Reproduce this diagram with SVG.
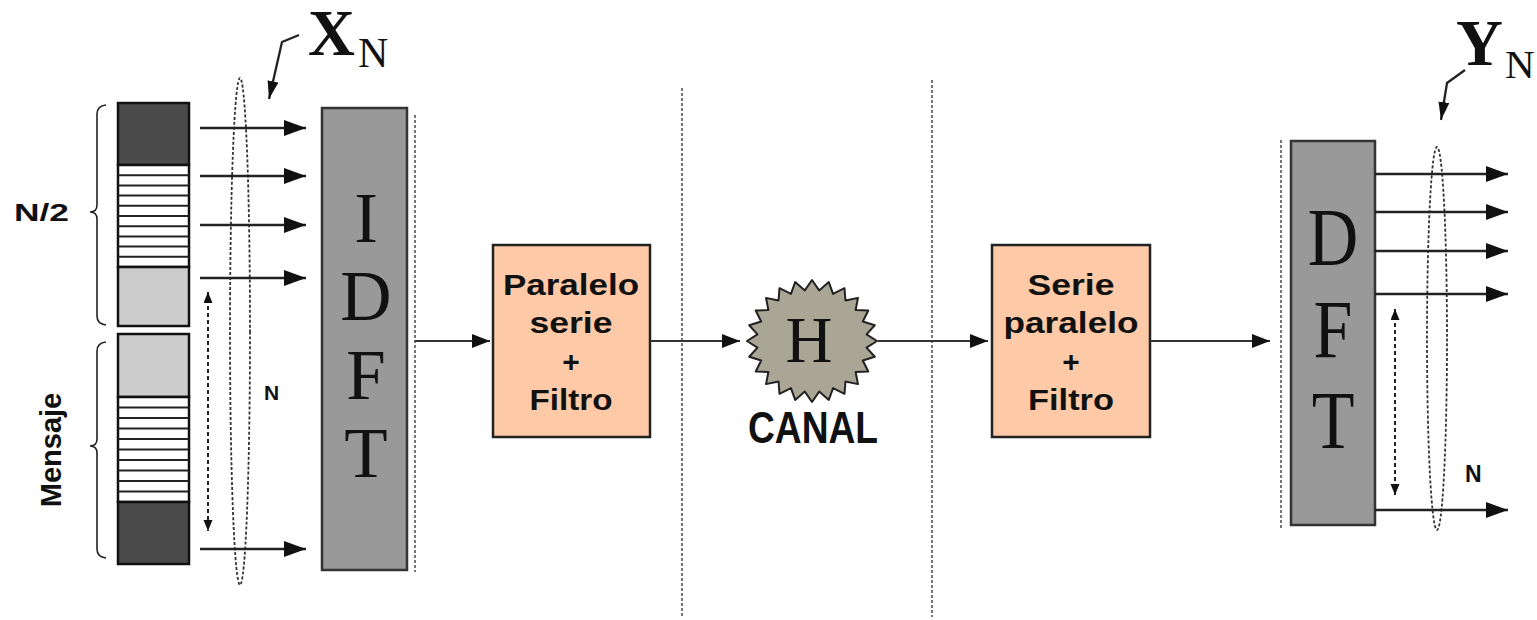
<svg xmlns="http://www.w3.org/2000/svg" width="1537" height="620" viewBox="0 0 1537 620">
  <style>
    .sans { font-family: "Liberation Sans", Arial, sans-serif; font-weight: bold; fill: #111; }
    .serif { font-family: "Liberation Serif", "Times New Roman", serif; fill: #111; }
    .big { font-size: 71px; }
    .blk { font-size: 30px; }
    .wire { stroke: #222; stroke-width: 2.3; fill: none; }
    .wire-main { stroke: #333; stroke-width: 2.2; fill: none; }
    .guide { stroke: #555; stroke-width: 1.6; stroke-dasharray: 3 2; fill: none; }
    .loop { stroke: #333; stroke-width: 1.8; stroke-dasharray: 3 2; fill: none; }
    .span { stroke: #222; stroke-width: 2; stroke-dasharray: 4 3; fill: none; }
    .brace { stroke: #222; stroke-width: 1.6; fill: none; }
    .cell { stroke: #111; stroke-width: 2.5; }
    .stripe { stroke: #222; stroke-width: 2; }
    .dsp { fill: #999999; stroke: #333; stroke-width: 2.5; }
    .conv { fill: #fdc9a6; stroke: #222; stroke-width: 2.5; }
  </style>
  <defs>
    <marker id="arr" markerUnits="userSpaceOnUse" markerWidth="24" markerHeight="18" refX="22" refY="8" orient="auto">
      <path d="M0,0 L22,8 L0,16 z" fill="#111"/>
    </marker>
    <marker id="arr-main" markerUnits="userSpaceOnUse" markerWidth="20" markerHeight="16" refX="18" refY="7" orient="auto">
      <path d="M0,0 L18,7 L0,14 z" fill="#111"/>
    </marker>
    <marker id="arr-small" markerUnits="userSpaceOnUse" markerWidth="12" markerHeight="10" refX="11" refY="4.5" orient="auto-start-reverse">
      <path d="M0,0 L11,4.5 L0,9 z" fill="#111"/>
    </marker>
    <marker id="arr-ptr" markerUnits="userSpaceOnUse" markerWidth="20" markerHeight="12" refX="18" refY="5.5" orient="auto">
      <path d="M0,0 L18,5.5 L0,11 z" fill="#111"/>
    </marker>
  </defs>

  <!-- symbol stack: upper half -->
  <g id="stack-upper">
    <rect class="cell" x="118" y="103" width="71" height="62" fill="#4b4b4b"/>
    <rect class="cell" x="118" y="165" width="71" height="102" fill="#ffffff"/>
    <g class="stripe">
      <line x1="118" y1="175.2" x2="189" y2="175.2"/>
      <line x1="118" y1="185.4" x2="189" y2="185.4"/>
      <line x1="118" y1="195.6" x2="189" y2="195.6"/>
      <line x1="118" y1="205.8" x2="189" y2="205.8"/>
      <line x1="118" y1="216" x2="189" y2="216"/>
      <line x1="118" y1="226.2" x2="189" y2="226.2"/>
      <line x1="118" y1="236.4" x2="189" y2="236.4"/>
      <line x1="118" y1="246.6" x2="189" y2="246.6"/>
      <line x1="118" y1="256.8" x2="189" y2="256.8"/>
    </g>
    <rect class="cell" x="118" y="267" width="71" height="59" fill="#cccccc"/>
  </g>

  <!-- symbol stack: message half -->
  <g id="stack-lower">
    <rect class="cell" x="118" y="334" width="71" height="63" fill="#cccccc"/>
    <rect class="cell" x="118" y="397" width="71" height="105" fill="#ffffff"/>
    <g class="stripe">
      <line x1="118" y1="407.5" x2="189" y2="407.5"/>
      <line x1="118" y1="418" x2="189" y2="418"/>
      <line x1="118" y1="428.5" x2="189" y2="428.5"/>
      <line x1="118" y1="439" x2="189" y2="439"/>
      <line x1="118" y1="449.5" x2="189" y2="449.5"/>
      <line x1="118" y1="460" x2="189" y2="460"/>
      <line x1="118" y1="470.5" x2="189" y2="470.5"/>
      <line x1="118" y1="481" x2="189" y2="481"/>
      <line x1="118" y1="491.5" x2="189" y2="491.5"/>
    </g>
    <rect class="cell" x="118" y="502" width="71" height="62" fill="#4b4b4b"/>
  </g>

  <!-- braces and their labels -->
  <g id="brace-half">
    <path class="brace" d="M106,105 Q97,106 97,114 L97,205 Q97,212 90,212 Q97,212 97,219 L97,316 Q97,324 106,325"/>
    <text class="sans" x="14" y="221" font-size="24" textLength="55" lengthAdjust="spacingAndGlyphs">N/2</text>
  </g>
  <g id="brace-message">
    <path class="brace" d="M106,342 Q97,343 97,351 L97,439 Q97,446 90,446 Q97,446 97,453 L97,549 Q97,557 106,558"/>
    <text class="sans" transform="translate(61,450) rotate(-90)" x="0" y="0" font-size="29" text-anchor="middle">Mensaje</text>
  </g>

  <!-- X_N input vector -->
  <g id="input-vector">
    <ellipse class="loop" cx="240" cy="331.5" rx="10" ry="253.5"/>
    <path class="span" d="M208,292 L208,531" marker-start="url(#arr-small)" marker-end="url(#arr-small)"/>
    <text class="sans" x="264" y="400" font-size="21">N</text>
    <text class="serif" x="308" y="55" font-size="65" font-weight="bold">X</text>
    <text class="serif" x="358" y="67" font-size="42">N</text>
    <path class="wire" stroke-width="1.6" d="M299,35 L282,42 L269,99" marker-end="url(#arr-ptr)"/>
  </g>

  <!-- IDFT block -->
  <g id="idft">
    <rect class="dsp" x="322" y="108" width="85" height="462"/>
    <text class="serif big" x="366" y="242" text-anchor="middle">I</text>
    <text class="serif big" x="366" y="320" text-anchor="middle">D</text>
    <text class="serif big" x="366" y="399" text-anchor="middle">F</text>
    <text class="serif big" x="366" y="477" text-anchor="middle">T</text>
    <line class="guide" x1="415" y1="115" x2="415" y2="572"/>
  </g>

  <!-- parallel to serial converter -->
  <g id="ps-filter">
    <rect class="conv" x="493" y="245" width="157" height="192"/>
    <text class="sans blk" x="571" y="295" text-anchor="middle" textLength="136" lengthAdjust="spacingAndGlyphs">Paralelo</text>
    <text class="sans blk" x="571" y="333" text-anchor="middle" textLength="83" lengthAdjust="spacingAndGlyphs">serie</text>
    <text class="sans blk" x="571" y="372" text-anchor="middle">+</text>
    <text class="sans blk" x="571" y="410" text-anchor="middle" textLength="83" lengthAdjust="spacingAndGlyphs">Filtro</text>
  </g>

  <!-- channel -->
  <g id="canal">
    <polygon transform="translate(812,341)" fill="#aaa696" stroke="#222" stroke-width="2" stroke-linejoin="round" points="65,0 54.53,6.66 62.79,15.79 50.81,19.52 56.29,30.5 43.63,31.05 45.96,43.13 33.48,40.46 32.5,52.83 21.05,47.12 16.82,58.92 7.18,50.56 0,61 -7.18,50.56 -16.82,58.92 -21.05,47.12 -32.5,52.83 -33.48,40.46 -45.96,43.13 -43.63,31.05 -56.29,30.5 -50.81,19.52 -62.79,15.79 -54.53,6.66 -65,0 -54.53,-6.66 -62.79,-15.79 -50.81,-19.52 -56.29,-30.5 -43.63,-31.05 -45.96,-43.13 -33.48,-40.46 -32.5,-52.83 -21.05,-47.12 -16.82,-58.92 -7.18,-50.56 0,-61 7.18,-50.56 16.82,-58.92 21.05,-47.12 32.5,-52.83 33.48,-40.46 45.96,-43.13 43.63,-31.05 56.29,-30.5 50.81,-19.52 62.79,-15.79 54.53,-6.66"/>
    <text class="serif" x="809" y="362" font-size="65" text-anchor="middle">H</text>
    <text class="sans" x="748" y="443" font-size="44" textLength="130" lengthAdjust="spacingAndGlyphs">CANAL</text>
  </g>

  <!-- serial to parallel converter -->
  <g id="sp-filter">
    <rect class="conv" x="992" y="245" width="158" height="192"/>
    <text class="sans blk" x="1071" y="295" text-anchor="middle" textLength="87" lengthAdjust="spacingAndGlyphs">Serie</text>
    <text class="sans blk" x="1071" y="333" text-anchor="middle" textLength="135" lengthAdjust="spacingAndGlyphs">paralelo</text>
    <text class="sans blk" x="1071" y="372" text-anchor="middle">+</text>
    <text class="sans blk" x="1071" y="410" text-anchor="middle" textLength="86" lengthAdjust="spacingAndGlyphs">Filtro</text>
  </g>

  <!-- DFT block -->
  <g id="dft">
    <line class="guide" x1="1281" y1="140" x2="1281" y2="528"/>
    <rect class="dsp" x="1291" y="141" width="84" height="384"/>
    <text class="serif" font-size="70" text-anchor="middle" transform="translate(1333,265) scale(1,1.18)">D</text>
    <text class="serif" font-size="70" text-anchor="middle" transform="translate(1333,357) scale(1,1.18)">F</text>
    <text class="serif" font-size="70" text-anchor="middle" transform="translate(1333,448) scale(1,1.18)">T</text>
  </g>

  <!-- Y_N output vector -->
  <g id="output-vector">
    <ellipse class="loop" cx="1437" cy="338.5" rx="10" ry="191.5"/>
    <path class="span" d="M1395,309 L1395,495" marker-start="url(#arr-small)" marker-end="url(#arr-small)"/>
    <text class="sans" x="1465" y="482" font-size="23">N</text>
    <text class="serif" x="1456" y="65" font-size="65" font-weight="bold">Y</text>
    <text class="serif" x="1505" y="78" font-size="41">N</text>
    <path class="wire" stroke-width="1.6" d="M1465,70 L1447,83 L1441,120" marker-end="url(#arr-ptr)"/>
  </g>

  <!-- section separators -->
  <g id="separators">
    <line class="guide" x1="682" y1="88" x2="682" y2="617"/>
    <line class="guide" x1="932" y1="80" x2="932" y2="617"/>
  </g>

  <!-- connectors -->
  <g id="connectors">
    <line class="wire" x1="200" y1="128" x2="306" y2="128" marker-end="url(#arr)"/>
    <line class="wire" x1="200" y1="176" x2="306" y2="176" marker-end="url(#arr)"/>
    <line class="wire" x1="200" y1="225" x2="306" y2="225" marker-end="url(#arr)"/>
    <line class="wire" x1="200" y1="278" x2="306" y2="278" marker-end="url(#arr)"/>
    <line class="wire" x1="200" y1="549" x2="306" y2="549" marker-end="url(#arr)"/>

    <line class="wire-main" x1="415" y1="341" x2="490" y2="341" marker-end="url(#arr-main)"/>
    <line class="wire-main" x1="650" y1="341" x2="740" y2="341" marker-end="url(#arr-main)"/>
    <line class="wire-main" x1="878" y1="341" x2="988" y2="341" marker-end="url(#arr-main)"/>
    <line class="wire-main" x1="1150" y1="341" x2="1270" y2="341" marker-end="url(#arr-main)"/>

    <line class="wire" x1="1375" y1="174" x2="1508" y2="174" marker-end="url(#arr)"/>
    <line class="wire" x1="1375" y1="212" x2="1508" y2="212" marker-end="url(#arr)"/>
    <line class="wire" x1="1375" y1="251" x2="1508" y2="251" marker-end="url(#arr)"/>
    <line class="wire" x1="1375" y1="294" x2="1508" y2="294" marker-end="url(#arr)"/>
    <line class="wire" x1="1375" y1="510" x2="1508" y2="510" marker-end="url(#arr)"/>
  </g>
</svg>
